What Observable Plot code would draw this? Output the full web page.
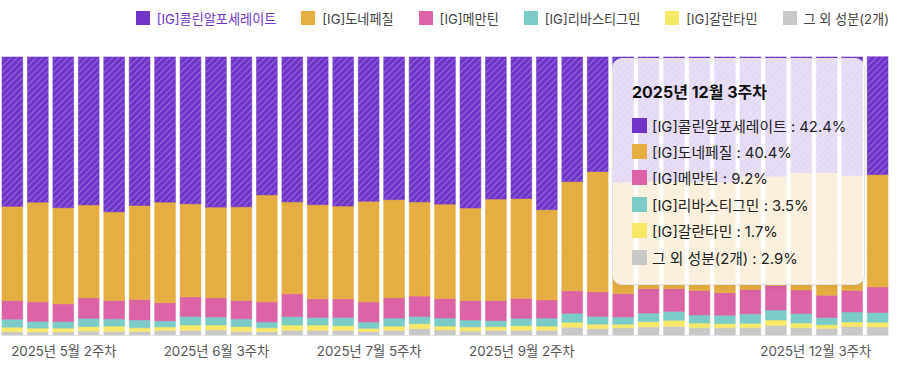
<!DOCTYPE html>
<html><head><meta charset="utf-8">
<script src="https://cdn.jsdelivr.net/npm/d3@7"></script>
<script src="https://cdn.jsdelivr.net/npm/@observablehq/plot@0.6"></script>
<style>
body{margin:0;background:#fff;font-family:Inter,"Noto Sans CJK KR",sans-serif;}
#wrap{position:relative;width:899px;height:365px;overflow:hidden;}
#legend{height:36px;display:flex;justify-content:flex-end;align-items:center;padding-right:10px;font-size:13.15px;color:#444;}
.li{display:flex;align-items:center;margin-left:25px;white-space:nowrap;}
.sw{width:14px;height:14px;margin-right:7px;flex:none;}
#tip{position:absolute;left:612px;top:58px;width:253px;height:227px;box-sizing:border-box;border:1px solid #e2e2e2;border-radius:10px;background:rgba(255,255,255,0.82);box-shadow:0 2px 6px rgba(0,0,0,0.06);padding:23px 0 0 19px;color:#222;}
#tip .tt{font-size:16px;font-weight:700;color:#111;height:20px;line-height:20px;margin-bottom:10px;}
#tip .row{display:flex;align-items:center;height:26.4px;font-size:14.8px;white-space:nowrap;}
#tip .row .sw{width:15px;height:15px;margin-right:5px;}
</style></head><body>
<div id="wrap"><div id="legend"></div><div id="chart"></div><div id="tip"></div></div>
<script>
const weeks = ["2025년 4월 4주차","2025년 5월 1주차","2025년 5월 2주차","2025년 5월 3주차","2025년 5월 4주차","2025년 5월 5주차","2025년 6월 1주차","2025년 6월 2주차","2025년 6월 3주차","2025년 6월 4주차","2025년 7월 1주차","2025년 7월 2주차","2025년 7월 3주차","2025년 7월 4주차","2025년 7월 5주차","2025년 8월 1주차","2025년 8월 2주차","2025년 8월 3주차","2025년 8월 4주차","2025년 9월 1주차","2025년 9월 2주차","2025년 9월 3주차","2025년 9월 4주차","2025년 10월 1주차","2025년 10월 2주차","2025년 10월 3주차","2025년 10월 4주차","2025년 10월 5주차","2025년 11월 1주차","2025년 11월 2주차","2025년 11월 3주차","2025년 11월 4주차","2025년 12월 1주차","2025년 12월 2주차","2025년 12월 3주차"];
const tickWeeks = ["2025년 5월 2주차","2025년 6월 3주차","2025년 7월 5주차","2025년 9월 2주차"];
const lastTickWeek = "2025년 12월 3주차";
const hoverWeek = "2025년 12월 3주차";

const seriesNames = ["[IG]콜린알포세레이트","[IG]도네페질","[IG]메만틴","[IG]리바스티그민","[IG]갈란타민","그 외 성분(2개)"];
const seriesColors = ["#6e35c8","#e6ae42","#dc63a6","#7bccc7","#f7e867","#c8c8c8"];

const choline = [53.7,52.2,54.2,53.2,55.7,53.4,52.2,52.8,54.0,53.9,49.6,52.1,53.1,53.6,51.9,51.3,52.1,52.9,54.3,51.1,50.9,54.9,44.8,41.2,45.0,44.8,44.8,45.0,45.0,42.9,42.9,41.6,41.6,42.6,42.4];
const donepezil = [33.9,35.9,34.6,33.4,31.9,33.8,36.2,33.5,32.6,33.7,38.5,33.1,33.9,33.4,36.2,35.3,33.9,34.0,33.3,36.5,35.9,32.5,39.3,43.3,40.1,38.5,38.5,39.0,39.8,40.7,39.3,42.2,44.1,41.4,40.4];
const memantine = [6.7,7.0,6.4,7.4,6.6,7.4,6.5,7.0,6.9,6.6,7.2,8.2,6.7,6.7,7.2,7.3,7.3,7.0,7.0,7.2,7.2,6.5,8.1,8.8,8.4,8.8,8.2,8.8,8.1,8.8,8.8,8.5,8.0,7.7,9.2];
const rivastigmine = [2.9,2.4,2.3,3.0,2.6,2.8,2.2,3.1,2.9,2.8,2.1,3.0,2.7,2.9,2.3,2.9,2.6,2.9,2.5,2.2,2.6,2.9,3.2,2.8,2.6,3.1,3.2,2.9,3.0,3.4,3.6,3.4,2.6,3.6,3.5];
const galantamine = [1.6,1.4,1.4,1.6,1.9,1.3,1.3,2.0,1.8,1.7,1.4,1.9,1.9,1.8,1.1,1.6,1.8,1.4,1.5,1.3,1.7,1.5,1.8,1.6,1.3,1.9,2.2,1.7,1.5,1.6,2.0,1.7,1.3,1.7,1.7];
const others = [1.2,1.1,1.1,1.4,1.3,1.3,1.6,1.6,1.8,1.3,1.2,1.7,1.7,1.6,1.3,1.6,2.3,1.8,1.4,1.7,1.7,1.7,2.8,2.3,2.6,2.9,3.1,2.6,2.6,2.6,3.4,2.6,2.4,3.0,2.9];

const seriesValues = [choline, donepezil, memantine, rivastigmine, galantamine, others];
const colorOf = Object.fromEntries(seriesNames.map((s,i)=>[s,seriesColors[i]]));
const fillOf = seriesColors.map((c,i)=> i===0 ? "url(#hatch)" : c);

// tidy rows, bottom-up stacking order
const stackOrder = seriesNames.slice().reverse();
const rows = [];
weeks.forEach((w,i)=>{
  stackOrder.forEach(s=>{
    rows.push({week:w, series:s, value: seriesValues[seriesNames.indexOf(s)][i]});
  });
});

// legend
const legend = document.getElementById("legend");
seriesNames.forEach((s,i)=>{
  const d = document.createElement("div"); d.className="li";
  d.innerHTML = `<span class="sw" style="background:${seriesColors[i]}"></span><span style="color:${i===0?seriesColors[0]:'#444'}">${s}</span>`;
  legend.appendChild(d);
});

const svg = Plot.plot({
  width: 899, height: 329,
  marginTop: 21, marginBottom: 30, marginLeft: 2, marginRight: 11,
  style: {fontFamily: 'Inter,"Noto Sans CJK KR",sans-serif', fontSize: "13.3px", color: "#555", background: "transparent"},
  x: {domain: weeks, padding: 0.185, paddingOuter: 0, round: false, axis: null, label: null},
  y: {domain: [0, 100], axis: null, label: null},
  color: {domain: seriesNames, range: fillOf},
  marks: [
    Plot.ruleY([30, 60], {stroke: "#ececec"}),
    Plot.ruleY([0], {stroke: "#e6e6e6"}),
    Plot.barY(rows, Plot.stackY({x: "week", y: "value", fill: "series", order: stackOrder,
      stroke: d => colorOf[d.series], strokeOpacity: 0.55, strokeWidth: 1})),
    Plot.axisX({ticks: tickWeeks, tickSize: 0, tickPadding: 11, fill: "#555", fontSize: 13.3, label: null}),
    Plot.axisX({ticks: [lastTickWeek], tickSize: 0, tickPadding: 11, textAnchor: "end", dx: -7, fill: "#555", fontSize: 13.3, label: null})
  ]
});

// hatch pattern for top series
const ns = "http://www.w3.org/2000/svg";
const defs = document.createElementNS(ns, "defs");
defs.innerHTML = `<pattern id="hatch" patternUnits="userSpaceOnUse" width="4.5" height="4.5" patternTransform="rotate(45)">
  <rect width="4.5" height="4.5" fill="${seriesColors[0]}"/>
  <line x1="0" y1="0" x2="0" y2="4.5" stroke="#ffffff" stroke-opacity="0.45" stroke-width="1.2"/>
</pattern>`;
svg.insertBefore(defs, svg.firstChild);
document.getElementById("chart").appendChild(svg);

// tooltip for hovered week
const hi = weeks.indexOf(hoverWeek);
const tip = document.getElementById("tip");
let html = `<div class="tt">${hoverWeek}</div>`;
seriesNames.forEach((s,i)=>{
  html += `<div class="row"><span class="sw" style="background:${seriesColors[i]}"></span>${s} : ${seriesValues[i][hi].toFixed(1)}%</div>`;
});
tip.innerHTML = html;
</script>
</body></html>
